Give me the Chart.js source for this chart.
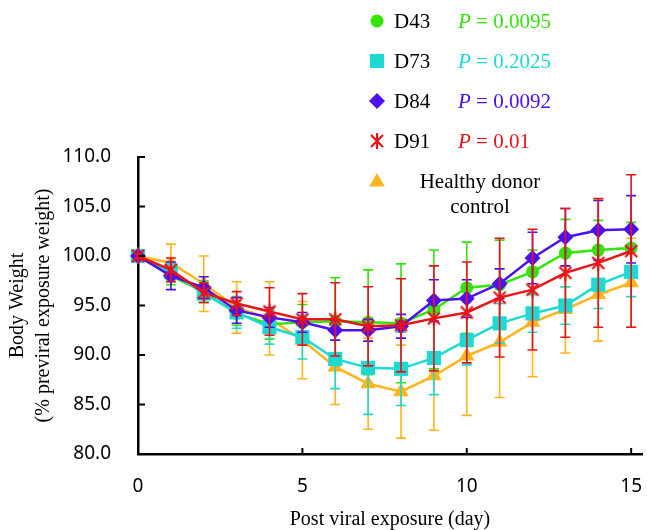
<!DOCTYPE html>
<html>
<head>
<meta charset="utf-8">
<script src="https://cdn.jsdelivr.net/npm/chart.js@4.4.1/dist/chart.umd.min.js"></script>
<style>
  html, body { margin: 0; padding: 0; background: #fff; }
  #chart { display: block; }
</style>
</head>
<body>
<canvas id="chart" width="647" height="530"></canvas>
<script>
// body weight (% of pre-viral weight) per donor group
const days = [0, 1, 2, 3, 4, 5, 6, 7, 8, 9, 10, 11, 12, 13, 14, 15];

const d43 = [100.0, 98.0, 96.4, 94.2, 93.1, 93.3, 93.4, 93.3, 93.2, 94.6, 96.8, 97.1, 98.4, 100.3, 100.6, 100.8];
const d43Err = [0, 0.9, 1.1, 1.2, 1.5, 1.8, 4.4, 5.3, 6.0, 6.0, 4.6, 4.5, 2.2, 3.4, 3.0, 2.6];

const d73 = [100.0, 98.4, 96.2, 94.3, 92.8, 91.8, 89.6, 88.7, 88.6, 89.7, 91.5, 93.2, 94.2, 95.0, 97.1, 98.4];
const d73Err = [0, 0.8, 0.9, 1.6, 1.7, 2.2, 3.0, 4.7, 3.7, 3.7, 2.5, 2.0, 1.9, 1.9, 2.4, 2.5];

const d84 = [100.0, 98.0, 96.8, 94.5, 93.8, 93.3, 92.5, 92.5, 92.9, 95.5, 95.7, 97.2, 99.8, 101.9, 102.6, 102.7];
const d84Err = [0, 1.4, 1.1, 1.3, 1.0, 1.0, 1.0, 1.1, 1.2, 2.1, 1.9, 1.5, 2.6, 2.9, 3.0, 3.4];

const d91 = [100.0, 98.6, 96.3, 95.2, 94.4, 93.6, 93.6, 92.9, 93.0, 93.7, 94.3, 95.8, 96.6, 98.3, 99.3, 100.5];
const d91Err = [0, 1.2, 1.0, 1.2, 2.4, 2.6, 3.7, 4.0, 4.7, 5.3, 5.1, 6.0, 6.1, 6.5, 6.5, 7.7];

const healthy = [100.0, 99.3, 97.2, 94.8, 93.7, 91.5, 88.8, 87.1, 86.3, 87.9, 89.9, 91.3, 93.3, 94.6, 96.1, 97.3];
const healthyErr = [0, 1.9, 2.8, 2.6, 3.7, 3.9, 3.8, 4.6, 4.7, 5.5, 6.0, 5.6, 5.5, 4.4, 4.7, 4.5];

const seriesNames = ['D43', 'D73', 'D84', 'D91', ['Healthy donor', 'control']];
const pValues = ['0.0095', '0.2025', '0.0092', '0.01', null];
const xTicks = [0, 5, 10, 15];
const yTicks = [80, 85, 90, 95, 100, 105, 110];

const GREEN = '#33e30a';
const CYAN = '#1cdad2';
const PURPLE = '#4d10f2';
const RED = '#e8141a';
const YELLOW = '#ffb41c';

// red asterisk marker (X with a vertical stroke)
function makeStar(color) {
  const c = document.createElement('canvas');
  c.width = 18; c.height = 18;
  const g = c.getContext('2d');
  g.strokeStyle = color;
  g.lineWidth = 2.2;
  g.beginPath();
  g.moveTo(3, 3); g.lineTo(15, 15);
  g.moveTo(15, 3); g.lineTo(3, 15);
  g.moveTo(9, 1); g.lineTo(9, 17);
  g.stroke();
  return c;
}
const starImg = makeStar(RED);

function pts(vals) {
  return days.map((d, i) => ({ x: d, y: vals[i] }));
}

function makeSet(label, vals, errs, color, style, radius, order) {
  return {
    label, data: pts(vals), errors: errs,
    borderColor: color, backgroundColor: color,
    borderWidth: 2.5, pointStyle: style, pointRadius: radius,
    pointHoverRadius: radius, pointBorderWidth: 0,
    pointBackgroundColor: color, tension: 0, clip: false, order,
  };
}

const datasets = [
  makeSet('D43', d43, d43Err, GREEN, 'circle', 6.5, 3),
  makeSet('D73', d73, d73Err, CYAN, 'rect', 10, 2),
  makeSet('D84', d84, d84Err, PURPLE, 'rectRot', 8, 1),
  makeSet('D91', d91, d91Err, RED, starImg, 8, 0),
  makeSet('Healthy donor control', healthy, healthyErr, YELLOW, 'triangle', 9, 4),
];

const errorBars = {
  id: 'errorBars',
  beforeDatasetDraw(chart, args) {
    const ds = chart.data.datasets[args.index];
    if (!ds.errors) return;
    const xs = chart.scales.x, ys = chart.scales.y, ctx = chart.ctx;
    ctx.save();
    ctx.strokeStyle = ds.borderColor;
    ctx.lineWidth = 1.6;
    ds.data.forEach((p, i) => {
      const e = ds.errors[i];
      if (!e) return;
      const px = xs.getPixelForValue(p.x);
      const top = ys.getPixelForValue(p.y + e);
      const bot = ys.getPixelForValue(p.y - e);
      ctx.beginPath();
      ctx.moveTo(px, top); ctx.lineTo(px, bot);
      ctx.moveTo(px - 5, top); ctx.lineTo(px + 5, top);
      ctx.moveTo(px - 5, bot); ctx.lineTo(px + 5, bot);
      ctx.stroke();
    });
    ctx.restore();
  },
};

// inward tick marks
const innerTicks = {
  id: 'innerTicks',
  afterDatasetsDraw(chart) {
    const { ctx, chartArea } = chart;
    const xs = chart.scales.x, ys = chart.scales.y;
    ctx.save();
    ctx.strokeStyle = '#000';
    ctx.lineWidth = 2;
    ctx.beginPath();
    yTicks.forEach((v) => {
      const py = ys.getPixelForValue(v);
      ctx.moveTo(chartArea.left, py); ctx.lineTo(chartArea.left + 7, py);
    });
    xTicks.forEach((v) => {
      const px = xs.getPixelForValue(v);
      ctx.moveTo(px, chartArea.bottom); ctx.lineTo(px, chartArea.bottom - 6);
    });
    ctx.stroke();
    ctx.restore();
  },
};

// legend with p-values at the top
const pLegend = {
  id: 'pLegend',
  afterDraw(chart) {
    const ctx = chart.ctx;
    const rowY = [21, 61, 101, 141, 182];
    ctx.save();
    chart.data.datasets.forEach((ds, i) => {
      const y = rowY[i];
      ctx.fillStyle = ds.backgroundColor;
      ctx.strokeStyle = ds.borderColor;
      Chart.helpers.drawPoint(ctx, { pointStyle: ds.pointStyle, radius: ds.pointRadius, rotation: 0, borderWidth: 0 }, 377, y);
      ctx.font = '21px "Liberation Serif", serif';
      ctx.textBaseline = 'middle';
      ctx.fillStyle = '#000';
      const name = seriesNames[i];
      if (Array.isArray(name)) {
        ctx.textAlign = 'center';
        ctx.fillText(name[0], 480, y);
        ctx.fillText(name[1], 480, y + 25);
      } else {
        ctx.textAlign = 'left';
        ctx.fillText(name, 394, y + 1);
      }
      if (pValues[i]) {
        ctx.textAlign = 'left';
        ctx.fillStyle = ds.borderColor;
        ctx.font = 'italic 21px "Liberation Serif", serif';
        ctx.fillText('P', 458, y + 1);
        const w = ctx.measureText('P').width;
        ctx.font = '21px "Liberation Serif", serif';
        ctx.fillText(' = ' + pValues[i], 458 + w, y + 1);
      }
    });
    ctx.restore();
  },
};

new Chart(document.getElementById('chart'), {
  type: 'line',
  data: { datasets },
  plugins: [errorBars, innerTicks, pLegend],
  options: {
    responsive: false,
    animation: false,
    layout: { autoPadding: false, padding: { top: 157, right: 5, left: 0, bottom: 0 } },
    plugins: { legend: { display: false }, tooltip: { enabled: false } },
    scales: {
      x: {
        type: 'linear', min: 0, max: 15.33,
        afterBuildTicks: (s) => { s.ticks = xTicks.map((v) => ({ value: v })); },
        afterFit: (s) => { s.height = 76; s.paddingLeft = 0; s.paddingRight = 0; },
        grid: { display: true, drawOnChartArea: false, drawTicks: true, tickLength: 19, color: 'rgba(0,0,0,0)' },
        border: { display: true, color: '#000', width: 2.5 },
        ticks: { color: '#000', padding: 2, maxRotation: 0, font: { family: '"Noto Sans", sans-serif', size: 19 } },
        title: { display: true, text: 'Post viral exposure (day)', color: '#000', padding: { top: 0, bottom: 0 }, font: { family: '"Liberation Serif", serif', size: 20, lineHeight: 1 } },
      },
      y: {
        min: 80, max: 110,
        afterBuildTicks: (s) => { s.ticks = yTicks.map((v) => ({ value: v })); },
        afterFit: (s) => { s.width = 138; },
        grid: { display: false },
        border: { display: true, color: '#000', width: 2.5 },
        ticks: { color: '#000', padding: 19, callback: (v) => Number(v).toFixed(1), font: { family: '"Noto Sans", sans-serif', size: 19 } },
        title: { display: true, text: ['Body Weight', '(% previral exposure weight)'], color: '#000', padding: { top: 5, bottom: 0 }, font: { family: '"Liberation Serif", serif', size: 20, lineHeight: 1.3 } },
      },
    },
  },
});
</script>
</body>
</html>
